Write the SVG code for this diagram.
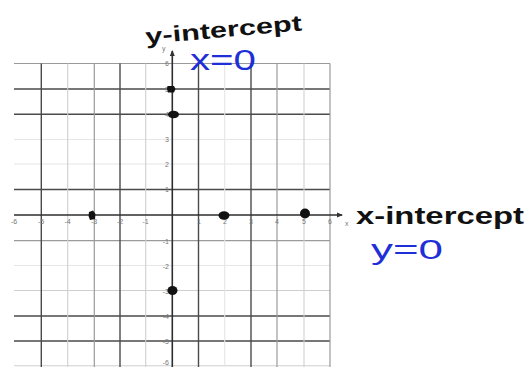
<svg xmlns="http://www.w3.org/2000/svg" width="528" height="367" viewBox="0 0 528 367">
<style>
.dk{stroke:#4a4a4a;stroke-width:1.4}
.md{stroke:#9a9a9a;stroke-width:1.2}
.lt{stroke:#cfcfcf;stroke-width:1.1}
.vl{stroke:#e6e6e6;stroke-width:1.1}
.tk{font-family:"Liberation Sans",Arial,sans-serif;font-size:7px;fill:#777}
.hw{font-family:"Liberation Sans",Arial,sans-serif;fill:#111;font-weight:bold}
.bl{font-family:"Liberation Sans",Arial,sans-serif;fill:#1f2fd8}
.pt{fill:#111}
</style>
<defs>
<marker id="ah" markerWidth="6" markerHeight="6" refX="5" refY="3" orient="auto" markerUnits="userSpaceOnUse">
<path d="M0,0.5 L6,3 L0,5.5 Z" fill="#333"/>
</marker>
</defs>
<rect width="528" height="367" fill="#fff"/>
<g id="grid">
<line class="md" x1="14" y1="63.5" x2="330" y2="63.5"/>
<line class="dk" x1="14" y1="89" x2="330" y2="89"/>
<line class="dk" x1="14" y1="114.3" x2="330" y2="114.3"/>
<line class="vl" x1="14" y1="139.5" x2="330" y2="139.5"/>
<line class="vl" x1="14" y1="164" x2="330" y2="164"/>
<line class="dk" x1="14" y1="189.5" x2="330" y2="189.5"/>
<line class="md" x1="14" y1="240.7" x2="330" y2="240.7"/>
<line class="vl" x1="14" y1="265.5" x2="330" y2="265.5"/>
<line class="lt" x1="14" y1="290.5" x2="330" y2="290.5"/>
<line class="dk" x1="14" y1="316" x2="330" y2="316"/>
<line class="dk" x1="14" y1="341" x2="330" y2="341"/>
<line class="lt" x1="14" y1="365.8" x2="330" y2="365.8"/>
<line class="dk" x1="41.3" y1="63.5" x2="41.3" y2="367"/>
<line class="lt" x1="67.7" y1="63.5" x2="67.7" y2="367"/>
<line class="md" x1="94.3" y1="63.5" x2="94.3" y2="367"/>
<line class="dk" x1="120" y1="63.5" x2="120" y2="367"/>
<line class="lt" x1="145.7" y1="63.5" x2="145.7" y2="367"/>
<line class="dk" x1="198.5" y1="63.5" x2="198.5" y2="367"/>
<line class="vl" x1="224.7" y1="63.5" x2="224.7" y2="367"/>
<line class="dk" x1="251" y1="63.5" x2="251" y2="367"/>
<line class="md" x1="277" y1="63.5" x2="277" y2="367"/>
<line class="lt" x1="304" y1="63.5" x2="304" y2="367"/>
<line class="md" x1="330" y1="63.5" x2="330" y2="367"/>
</g>
<g id="axes">
<line x1="14" y1="215" x2="342" y2="215" stroke="#2e2e2e" stroke-width="1.6" marker-end="url(#ah)"/>
<line x1="172.3" y1="367" x2="172.3" y2="51" stroke="#2e2e2e" stroke-width="1.6" marker-end="url(#ah)"/>
<text class="tk" x="345" y="226">x</text>
<text class="tk" x="162" y="51">y</text>
</g>
<g id="xticks" class="tk" text-anchor="middle">
<text x="14" y="224">-6</text>
<text x="41" y="224">-5</text>
<text x="67.5" y="224">-4</text>
<text x="94" y="224">-3</text>
<text x="120" y="224">-2</text>
<text x="145.5" y="224">-1</text>
<text x="199" y="224">1</text>
<text x="225" y="224">2</text>
<text x="251" y="224">3</text>
<text x="277" y="224">4</text>
<text x="304" y="224">5</text>
<text x="330" y="224">6</text>
</g>
<g id="yticks" class="tk" text-anchor="end">
<text x="169" y="66">6</text>
<text x="169" y="91.5">5</text>
<text x="169" y="117">4</text>
<text x="169" y="142">3</text>
<text x="169" y="166.5">2</text>
<text x="169" y="192">1</text>
<text x="169" y="243.5">-1</text>
<text x="169" y="268.5">-2</text>
<text x="169" y="293.5">-3</text>
<text x="169" y="318.5">-4</text>
<text x="169" y="343.5">-5</text>
<text x="169" y="364.5">-6</text>
</g>
<g id="points">
<path class="pt" d="M167.5,86 L174,86 L175.5,89 L174,92.5 L168,92.5 L167,89 Z"/>
<ellipse class="pt" cx="173.5" cy="114.5" rx="5.5" ry="3.8"/>
<ellipse class="pt" cx="172.5" cy="290.5" rx="5" ry="4.5"/>
<path class="pt" d="M89,212 L93,210.5 L95.5,214 L95,219 L90,220 L88.5,216 Z"/>
<ellipse class="pt" cx="224" cy="215.5" rx="5.5" ry="4.2"/>
<ellipse class="pt" cx="305" cy="213.5" rx="5" ry="5"/>
</g>
<g id="y-intercept-label">
<text class="hw" x="146" y="44" font-size="22" textLength="157" lengthAdjust="spacingAndGlyphs" transform="rotate(-5 146 44)">y-intercept</text>
</g>
<g id="x-eq-0">
<text class="bl" x="190" y="70" font-size="29" textLength="66" lengthAdjust="spacingAndGlyphs">x=0</text>
</g>
<g id="x-intercept-label">
<text class="hw" x="356" y="224" font-size="24" textLength="168" lengthAdjust="spacingAndGlyphs">x-intercept</text>
</g>
<g id="y-eq-0">
<text class="bl" x="371" y="259" font-size="28" textLength="72" lengthAdjust="spacingAndGlyphs">y=0</text>
</g>
</svg>
